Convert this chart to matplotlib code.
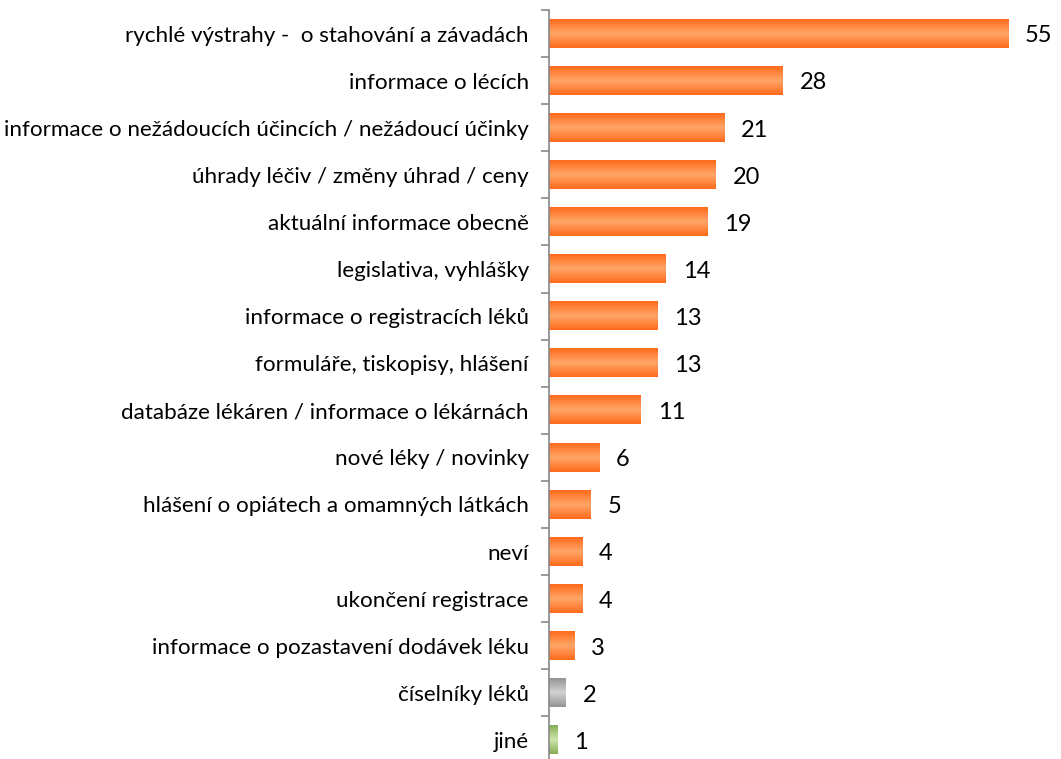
import matplotlib.pyplot as plt
import numpy as np
from matplotlib.colors import LinearSegmentedColormap

categories = [
    "rychlé výstrahy -  o stahování a závadách",
    "informace o lécích",
    "informace o nežádoucích účincích / nežádoucí účinky",
    "úhrady léčiv / změny úhrad / ceny",
    "aktuální informace obecně",
    "legislativa, vyhlášky",
    "informace o registracích léků",
    "formuláře, tiskopisy, hlášení",
    "databáze lékáren / informace o lékárnách",
    "nové léky / novinky",
    "hlášení o opiátech a omamných látkách",
    "neví",
    "ukončení registrace",
    "informace o pozastavení dodávek léku",
    "číselníky léků",
    "jiné",
]
values = [55, 28, 21, 20, 19, 14, 13, 13, 11, 6, 5, 4, 4, 3, 2, 1]
groups = ["orange"] * 14 + ["gray", "green"]

# edge colour, centre colour of the bar gradient
palette = {
    "orange": ("#ff6a1c", "#ffa566"),
    "gray": ("#949494", "#d2d2d2"),
    "green": ("#86ad55", "#cfe5aa"),
}

plt.rcParams['font.family'] = ['Lato', 'DejaVu Sans']

fig = plt.figure(figsize=(10.61, 7.59), dpi=100)
ax = fig.add_axes([549 / 1061, -4.5 / 759, 501 / 1061, 753.5 / 759])

n = len(categories)
ypos = np.arange(n)
h = 0.6
grad = np.abs(np.linspace(-1, 1, 64)).reshape(-1, 1)
for y, v, g in zip(ypos, values, groups):
    cmap = LinearSegmentedColormap.from_list(g, [palette[g][1], palette[g][0]])
    ax.imshow(grad, cmap=cmap, aspect='auto', extent=(0, v, y + h / 2, y - h / 2),
              interpolation='bilinear', zorder=2)
    ax.text(v + 2.0, y + 0.05, str(v), va='center', ha='left', fontsize=17)

ax.set_xlim(0, 60)
ax.set_ylim(n - 0.5, -0.5)
ax.set_yticks(ypos)
ax.set_yticklabels(categories, fontsize=16.1)
ax.set_yticks(np.arange(n + 1) - 0.5, minor=True)
ax.tick_params(axis='y', which='major', length=0, pad=14.5)
ax.tick_params(axis='y', which='minor', length=6, color='#888888', width=1.2)
ax.set_xticks([])
for s in ['top', 'right', 'bottom']:
    ax.spines[s].set_visible(False)
ax.spines['left'].set_color('#888888')
ax.spines['left'].set_linewidth(1.2)

plt.savefig('out.png', dpi=100)
